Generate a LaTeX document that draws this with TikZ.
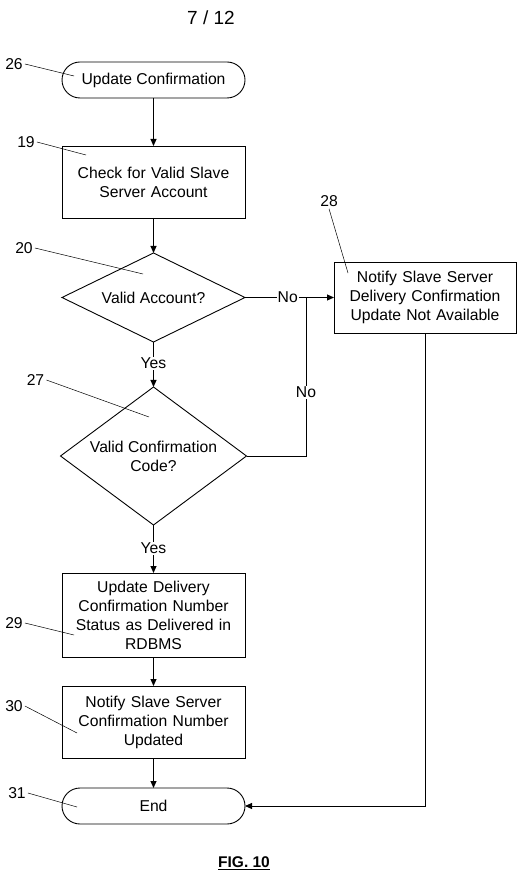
\documentclass[tikz,border=0pt]{standalone}
\usepackage{fontspec}
\setmainfont{Liberation Sans}
\usepackage{tikz}
\usetikzlibrary{arrows.meta,positioning,shapes.geometric}

\begin{document}
\begin{tikzpicture}[
  x=1pt, y=-1pt,
  font=\fontsize{15.7}{19}\selectfont,
  box/.style={
    rectangle, draw, line width=0.9pt, outer sep=0pt,
    minimum width=183pt, text width=175pt, inner sep=4pt,
    align=center
  },
  term/.style={
    rectangle, rounded corners=18pt, draw, line width=0.9pt, outer sep=0pt,
    minimum width=183pt, minimum height=36pt
  },
  decision/.style={diamond, draw, line width=0.9pt, outer sep=0pt, inner sep=0pt, align=center},
  arr/.style={-{Triangle[length=7pt,width=6pt]}, line width=0.9pt},
  link/.style={line width=0.9pt},
  answer/.style={fill=white, inner sep=1pt},
  tag/.style={inner sep=2pt},
  leader/.style={line width=0.5pt}
]
  \useasboundingbox (0,0) rectangle (517,874);

  \node[font=\fontsize{19}{22}\selectfont] (page) at (211,18) {7 / 12};

  % main column
  \node[term] (start) at (153.5,80) {Update Confirmation};
  \node[box, minimum height=72pt, below=48pt of start] (check) {Check for Valid Slave\\ Server Account};
  \node[decision, shape aspect=2.056, minimum width=183pt, minimum height=89pt, below=35pt of check] (validacc) {Valid Account?};
  \node[decision, shape aspect=1.348, minimum width=186pt, minimum height=138pt, below=45pt of validacc] (validcode) {Valid Confirmation\\ Code?};
  \node[box, minimum height=84pt, below=48pt of validcode] (status) {Update Delivery\\ Confirmation Number\\ Status as Delivered in\\ RDBMS};
  \node[box, minimum height=72pt, below=29pt of status] (notify) {Notify Slave Server\\ Confirmation Number\\ Updated};
  \node[term, below=30pt of notify] (end) {End};

  % failure branch
  \node[box, minimum width=182pt, text width=174pt, minimum height=71pt, right=89pt of validacc] (notavail) {Notify Slave Server\\ Delivery Confirmation\\ Update Not Available};
  \coordinate[right=61pt of validacc.east] (join);

  \draw[arr] (start) -- (check);
  \draw[arr] (check) -- (validacc);
  \draw[arr] (validacc) -- node[answer, pos=0.47] {Yes} (validcode);
  \draw[arr] (validcode) -- node[answer, pos=0.48] {Yes} (status);
  \draw[arr] (status) -- (notify);
  \draw[arr] (notify) -- (end);
  \draw[arr] (validacc.east) -- node[answer, pos=0.48] {No} (notavail.west);
  \draw[link] (validcode.east) -| node[answer, pos=0.7] {No} (join);
  \draw[arr] (notavail.south) |- (end.east);

  % reference numerals
  \node[tag] (t26) at (14,64) {26};
  \node[tag] (t19) at (26,142) {19};
  \node[tag] (t28) at (329,201) {28};
  \node[tag] (t20) at (24,248) {20};
  \node[tag] (t27) at (35.5,380) {27};
  \node[tag] (t29) at (14,623) {29};
  \node[tag] (t30) at (14,706) {30};
  \node[tag] (t31) at (17,793) {31};

  \coordinate (p26) at (74,76);
  \coordinate (p19) at (86,155);
  \coordinate (p28) at (348,273);
  \coordinate (p20) at (143,274);
  \coordinate (p27) at (149,417);
  \coordinate (p29) at (74,635);
  \coordinate (p30) at (77,733);
  \coordinate (p31) at (77,807);

  \draw[leader] (t26.east) -- (p26);
  \draw[leader] (t19.east) -- (p19);
  \draw[leader] (t28.south) -- (p28);
  \draw[leader] (t20.east) -- (p20);
  \draw[leader] (t27.east) -- (p27);
  \draw[leader] (t29.east) -- (p29);
  \draw[leader] (t30.east) -- (p30);
  \draw[leader] (t31.east) -- (p31);

  \node[font=\bfseries\fontsize{15.5}{18}\selectfont] (fig) at (244,863) {\underline{FIG. 10}};
\end{tikzpicture}
\end{document}
